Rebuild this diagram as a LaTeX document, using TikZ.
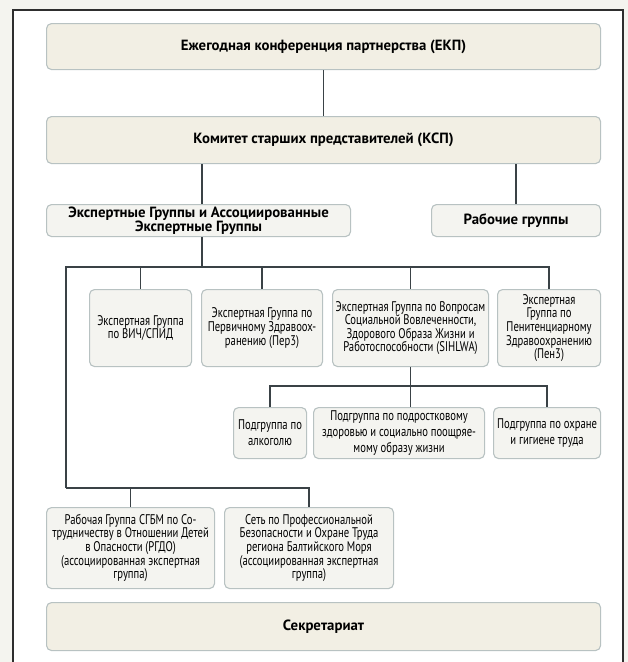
\documentclass[tikz,border=0pt]{standalone}
\usepackage{fontspec}
\setmainfont{PT Sans}
\newfontfamily\condfont{PT Sans}[FakeStretch=0.76]
\definecolor{bgout}{HTML}{F4F4EF}
\definecolor{panelline}{HTML}{2E2E2E}
\definecolor{boxline}{HTML}{B8C2C2}
\definecolor{bigfill}{HTML}{F2EFE4}
\definecolor{smallfill}{HTML}{F4F4F0}
\definecolor{conn}{HTML}{3A4246}
\tikzset{
  bigbox/.style={draw=boxline, fill=bigfill, line width=1.1pt, rounded corners=5pt, anchor=north west, inner sep=0pt, align=center, font=\bfseries\fontsize{14.8}{16}\selectfont},
  smallbox/.style={draw=boxline, fill=smallfill, line width=1.1pt, rounded corners=5pt, anchor=north west, inner sep=0pt, align=center, font=\condfont\fontsize{14}{13.6}\selectfont},
  subbox/.style={smallbox, font=\condfont\fontsize{14}{15.8}\selectfont},
  connline/.style={draw=conn, line width=1.3pt}
}
\begin{document}
\begin{tikzpicture}[x=1pt,y=-1pt]
\useasboundingbox (0,0) rectangle (628,662);
\fill[bgout] (0,0) rectangle (628,662);
\filldraw[fill=white, draw=panelline, line width=1.2pt] (13,663) -- (13,10) -- (623,10) -- (623,663);
% top boxes
\node[bigbox, minimum width=554pt, minimum height=46pt] (ekp) at (46,23) {Ежегодная конференция партнерства (ЕКП)};
\node[bigbox, minimum width=554pt, minimum height=47pt] (ksp) at (46,116) {Комитет старших представителей (КСП)};
\node[bigbox, minimum width=304pt, minimum height=32pt, fill=smallfill, font=\bfseries\fontsize{14.8}{13.5}\selectfont] (exp) at (46,204) {Экспертные Группы и Ассоциированные\\Экспертные Группы};
\node[bigbox, minimum width=169pt, minimum height=32pt, fill=smallfill] (work) at (431,204) {Рабочие группы};
% expert groups
\node[smallbox, minimum width=102pt, minimum height=77pt] (g1) at (89,289) {Экспертная Группа\\по ВИЧ/СПИД};
\node[smallbox, minimum width=121pt, minimum height=77pt] (g2) at (201,289) {Экспертная Группа по\\Первичному Здравоох-\\ранению (Пер3)};
\node[smallbox, minimum width=156pt, minimum height=77pt] (g3) at (332,289) {Экспертная Группа по Вопросам\\Социальной Вовлеченности,\\Здорового Образа Жизни и\\Работоспособности (SIHLWA)};
\node[smallbox, minimum width=103pt, minimum height=77pt] (g4) at (497,289) {Экспертная\\Группа по\\Пенитенциарному\\Здравоохранению\\(Пен3)};
% subgroups
\node[subbox, minimum width=73pt, minimum height=51pt] (s1) at (233,407) {Подгруппа по\\алкоголю};
\node[subbox, minimum width=171pt, minimum height=51pt] (s2) at (313,407) {Подгруппа по подростковому\\здоровью и социально поощряе-\\мому образу жизни};
\node[subbox, minimum width=107pt, minimum height=51pt] (s3) at (493,407) {Подгруппа по охране\\и гигиене труда};
% associated groups
\node[smallbox, minimum width=168pt, minimum height=81pt] (b1) at (46,507) {Рабочая Группа СГБМ по Со-\\трудничеству в Отношении Детей\\в Опасности (РГДО)\\(ассоциированная экспертная\\группа)};
\node[smallbox, minimum width=169pt, minimum height=81pt] (b2) at (224,507) {Сеть по Профессиональной\\Безопасности и Охране Труда\\региона Балтийского Моря\\(ассоциированная экспертная\\группа)};
% secretariat
\node[bigbox, minimum width=554pt, minimum height=48pt] (sec) at (46,602) {Секретариат};
% connectors
\coordinate (kx) at (202,267);
\coordinate (busL) at (66,267);
\coordinate (busB) at (66,488);
\coordinate (subL) at (270,386);
\draw[connline] (ekp.south) -- (ekp.south |- ksp.north);
\draw[connline] (ksp.south -| kx) -- (exp.north -| kx);
\draw[connline] (exp.south -| kx) -- (kx);
\draw[connline] (ksp.south -| work.north) -- (work.north);
\draw[connline] (g1.north |- busL) -- (g1.north);
\draw[connline] (g2.north |- busL) -- (g2.north);
\draw[connline] (g3.north |- busL) -- (g3.north);
\draw[connline] (busB) -- (busL) -- (g4.north |- busL) -- (g4.north);
\draw[connline] (g3.south) -- (g3.south |- s2.north);
\draw[connline] (s1.north) -- (s1.north |- subL) -- (s3.north |- subL) -- (s3.north);
\draw[connline] (busB) -- (b2.north |- busB) -- (b2.north);
\draw[connline] (b1.north |- busB) -- (b1.north);
\end{tikzpicture}
\end{document}
